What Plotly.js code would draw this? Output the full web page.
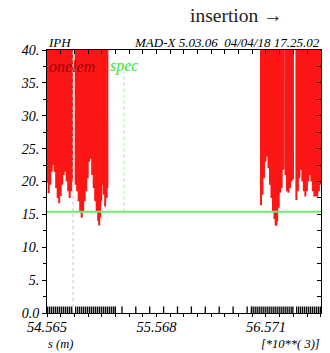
<!DOCTYPE html>
<html><head><meta charset="utf-8">
<script src="https://cdn.plot.ly/plotly-3.0.1.min.js"></script>
<style>html,body{margin:0;padding:0;background:#fff}</style>
</head><body><div id="chart" style="width:330px;height:353px"></div>
<script>
// ---- data (s in units of 10^3 m) ----
const OFF_SCALE = 400; // the curve leaves the top of the plot between samples
const blockA_s = [54.5668,54.5806,54.5943,54.6081,54.6218,54.6355,54.6493,54.6630,54.6768,54.6905,54.7042,54.7180,54.7317,54.7455,54.7592,54.7729,54.7867,54.7940];
const blockA_v = [19.8,18.2,19.5,21.5,22.5,21.5,19.0,17.5,16.7,17.8,19.5,21.0,21.5,20.0,18.5,17.5,18.5,20.0];
const blockB_s = [54.8279,54.8416,54.8554,54.8691,54.8829,54.8966,54.9103,54.9241,54.9378,54.9516,54.9653,54.9790,54.9928,55.0065,55.0203,55.0340,55.0432,55.0523,55.0615,55.0706,55.0844,55.0981,55.1119,55.1183];
const blockB_v = [19.5,18.5,17.0,15.5,14.5,15.5,17.0,18.5,20.5,23.0,23.5,21.0,19.0,17.0,15.5,14.0,13.3,14.5,17.0,19.5,18.0,16.2,17.5,19.0];
const blockC_s = [56.5252,56.5390,56.5527,56.5665,56.5802,56.5939,56.6077,56.6214,56.6352,56.6489,56.6599,56.6663,56.6736,56.6874,56.7011,56.7149,56.7286,56.7497,56.7634,56.7771,56.7909,56.8046,56.8184];
const blockC_v = [16.4,18.0,20.5,23.0,23.8,22.0,19.5,17.5,15.5,14.3,13.5,13.3,14.0,16.0,18.3,19.0,21.8,21.0,18.5,18.3,19.0,20.0,20.3];
const blockD_s = [56.8495,56.8632,56.8770,56.8907,56.9045,56.9182,56.9319,56.9457,56.9594,56.9732,56.9869,57.0006,57.0144,57.0281,57.0419,57.0556,57.0693];
const blockD_v = [17.2,18.5,20.5,21.8,20.0,18.5,17.7,18.5,20.0,21.0,20.0,18.5,17.7,17.7,17.7,18.5,19.5];

const specS = [54.565, 57.075];
const specV = [15.4, 15.4];
const specGuideS = [55.2703, 55.2703];
const specGuideV = [15.4, 36.7];
const onelemGuideS = [54.803, 54.803];
const onelemGuideV = [0, 40];

const elemS = [54.5714,54.5897,54.6080,54.6264,54.6447,54.6630,54.6813,54.6996,54.7180,54.7363,54.7546,54.7729,54.7912,
 54.8279,54.8462,54.8645,54.8829,54.9012,54.9195,54.9378,54.9561,54.9745,54.9928,55.0111,55.0294,55.0477,55.0661,55.0844,55.1027,55.1210,55.1393,55.1577,55.1760,55.1915,
 55.2520,55.3784,55.5057,55.6331,55.7604,55.8877,56.0150,56.1424,56.2697,56.3988,56.4373,
 56.4538,56.4721,56.4904,56.5088,56.5271,56.5454,56.5637,56.5820,56.6004,56.6187,56.6370,56.6553,56.6736,56.6920,56.7103,56.7286,56.7469,56.7652,56.7836,56.8019,56.8174,
 56.8523,56.8706,56.8889,56.9072,56.9256,56.9439,56.9622,56.9805,56.9988,57.0172,57.0355,57.0538,57.0703];
const elemH = 1.0;

const xTickVals = [54.565, 55.568, 56.571];
const xTickText = ["54.565", "55.568", "56.571"];
const yTickVals = [0, 5, 10, 15, 20, 25, 30, 35, 40];
const yTickText = ["0.0", "5.", "10.", "15.", "20.", "25.", "30.", "35.", "40."];

// ---- build traces ----
const blocks = [[blockA_s, blockA_v], [blockB_s, blockB_v], [blockC_s, blockC_v], [blockD_s, blockD_v]];
const rx = [], ry = [];
blocks.forEach(([s, v], b) => {
  if (b > 0) { rx.push(null); ry.push(null); }
  for (let i = 0; i < s.length; i++) {
    rx.push(s[i]); ry.push(v[i]);
    if (i < s.length - 1) { rx.push((s[i] + s[i + 1]) / 2); ry.push(OFF_SCALE); }
  }
});
const ex = [], ey = [];
elemS.forEach(s => { ex.push(s, s, null); ey.push(0, elemH, null); });

const serif = "Liberation Serif, Times New Roman, serif";
const traces = [
  {x: rx, y: ry, type: 'scatter', mode: 'lines', line: {color: 'rgb(252,22,22)', width: 2}, connectgaps: false, hoverinfo: 'skip'},
  {x: onelemGuideS, y: onelemGuideV, type: 'scatter', mode: 'lines', line: {color: '#c4c4c4', width: 1, dash: 'dot'}},
  {x: ex, y: ey, type: 'scatter', mode: 'lines', line: {color: '#000', width: 1.3}, connectgaps: false},
  {x: specGuideS, y: specGuideV, type: 'scatter', mode: 'lines', line: {color: '#8cef8c', width: 1, dash: 'dot'}, xaxis: 'x2', yaxis: 'y2'},
  {x: specS, y: specV, type: 'scatter', mode: 'lines', line: {color: 'rgb(110,235,110)', width: 2}, xaxis: 'x2', yaxis: 'y2'}
];

const xr = [54.565, 57.075], yr = [0, 40];
const layout = {
  width: 330, height: 353,
  margin: {l: 47, r: 9, t: 50, b: 40},
  paper_bgcolor: '#fff', plot_bgcolor: '#fff',
  showlegend: false, hovermode: false,
  xaxis: {range: xr, tickvals: xTickVals, ticktext: xTickText, ticks: 'outside', ticklen: 3, tickcolor: '#000',
    minor: {tick0: 54.565, dtick: 0.125375, ticks: 'outside', ticklen: 3, tickcolor: '#000'},
    ticklabelstandoff: -2,
    showline: true, linecolor: '#000', linewidth: 1, showgrid: false, zeroline: false,
    tickfont: {family: serif, size: 14.5, color: '#000', style: 'italic'}},
  yaxis: {range: yr, tickvals: yTickVals, ticktext: yTickText, ticks: 'outside', ticklen: 4, tickcolor: '#000',
    minor: {dtick: 2.5, ticks: 'outside', ticklen: 3, tickcolor: '#000'},
    showline: true, linecolor: '#000', linewidth: 1, showgrid: false, zeroline: false,
    tickfont: {family: serif, size: 14, color: '#000', style: 'italic'}},
  xaxis2: {range: xr, overlaying: 'x', side: 'top', anchor: 'y2', tick0: 54.565, dtick: 0.125375, ticks: 'inside', ticklen: 4, tickcolor: '#000',
    showticklabels: false, showline: true, linecolor: '#000', linewidth: 1, showgrid: false, zeroline: false},
  yaxis2: {range: yr, overlaying: 'y', side: 'right', anchor: 'x2', tick0: 0, dtick: 2.5, ticks: 'inside', ticklen: 4, tickcolor: '#000',
    showticklabels: false, showline: true, linecolor: '#000', linewidth: 1, showgrid: false, zeroline: false},
  annotations: [
    {text: 'insertion \u2192', xref: 'paper', yref: 'paper', x: 0.6916, y: 1.133, xanchor: 'center', yanchor: 'middle', showarrow: false,
      font: {family: serif, size: 19.5, color: '#222'}},
    {text: 'IPH', xref: 'paper', yref: 'paper', x: -0.005, y: 1.027, xanchor: 'left', yanchor: 'middle', showarrow: false,
      font: {family: serif, size: 13, color: '#000', style: 'italic'}},
    {text: 'MAD-X 5.03.06\u00a0\u00a004/04/18 17.25.02', xref: 'paper', yref: 'paper', x: 1.005, y: 1.027, xanchor: 'right', yanchor: 'middle', showarrow: false,
      font: {family: serif, size: 13, color: '#000', style: 'italic'}},
    {text: 'onelem', xref: 'paper', yref: 'paper', x: 0.0, y: 0.939, xanchor: 'left', yanchor: 'middle', showarrow: false,
      font: {family: serif, size: 16, color: '#9b0000', style: 'italic'}},
    {text: 'spec', xref: 'paper', yref: 'paper', x: 0.222, y: 0.939, xanchor: 'left', yanchor: 'middle', showarrow: false,
      font: {family: serif, size: 16, color: '#33e633', style: 'italic'}},
    {text: 's (m)', xref: 'paper', yref: 'paper', x: -0.005, y: -0.118, xanchor: 'left', yanchor: 'middle', showarrow: false,
      font: {family: serif, size: 12.5, color: '#000', style: 'italic'}},
    {text: '[*10**( 3)]', xref: 'paper', yref: 'paper', x: 1.005, y: -0.118, xanchor: 'right', yanchor: 'middle', showarrow: false,
      font: {family: serif, size: 12.5, color: '#000', style: 'italic'}}
  ]
};
Plotly.newPlot('chart', traces, layout, {displayModeBar: false, staticPlot: true});
</script></body></html>
